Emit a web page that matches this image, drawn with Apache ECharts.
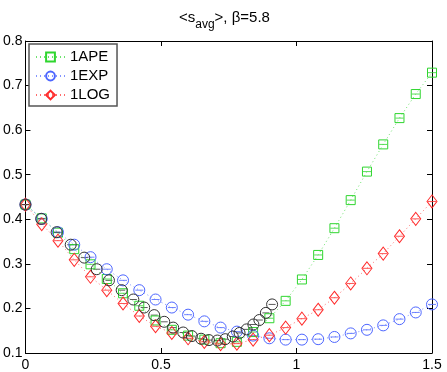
<!DOCTYPE html>
<html>
<head>
<meta charset="utf-8">
<script src="https://cdn.jsdelivr.net/npm/echarts@6/dist/echarts.min.js"></script>
<style>
  html, body { margin: 0; padding: 0; background: #fff; }
  #chart { width: 447px; height: 372px; }
</style>
</head>
<body>
<div id="chart"></div>
<script>
// x positions shared by the three labelled series
var xs = [0, 0.06, 0.12, 0.18, 0.24, 0.30, 0.36, 0.42, 0.48, 0.54, 0.60, 0.66, 0.72,
  0.78, 0.84, 0.90, 0.96, 1.02, 1.08, 1.14, 1.20, 1.26, 1.32, 1.38, 1.44, 1.50]
var apeVals = [0.433, 0.402, 0.370, 0.333, 0.299, 0.266, 0.234, 0.206, 0.173, 0.152, 0.139, 0.130, 0.122,
  0.125, 0.147, 0.178, 0.217, 0.265, 0.320, 0.380, 0.443, 0.507, 0.568, 0.627, 0.681, 0.729]
var expVals = [0.433, 0.401, 0.371, 0.343, 0.315, 0.288, 0.263, 0.241, 0.220, 0.202, 0.186, 0.171, 0.157,
  0.148, 0.139, 0.133, 0.130, 0.130, 0.131, 0.136, 0.144, 0.152, 0.162, 0.176, 0.191, 0.209]
var logVals = [0.433, 0.389, 0.352, 0.309, 0.271, 0.241, 0.211, 0.183, 0.160, 0.145, 0.133, 0.125, 0.120,
  0.121, 0.130, 0.140, 0.157, 0.177, 0.197, 0.224, 0.256, 0.290, 0.323, 0.362, 0.401, 0.440]
// unlabelled black series (own x positions)
var blackX = [0, 0.058, 0.115, 0.167, 0.217, 0.263, 0.308, 0.355, 0.398, 0.438, 0.475, 0.512, 0.545,
  0.582, 0.614, 0.648, 0.677, 0.708, 0.737, 0.765, 0.790, 0.816, 0.841, 0.863, 0.887, 0.910]
var blackVals = [0.433, 0.401, 0.371, 0.343, 0.314, 0.288, 0.263, 0.241, 0.220, 0.202, 0.185, 0.170, 0.157,
  0.146, 0.138, 0.132, 0.129, 0.128, 0.131, 0.137, 0.145, 0.153, 0.164, 0.174, 0.190, 0.209]
var xTicks = [0, 0.5, 1, 1.5]

var green = '#2fd62f'
var blue = '#4d66ff'
var red = '#ff2b2b'
var black = '#333333'

function pairs(x, y) {
  return x.map(function (v, i) { return [v, y[i]] })
}

// hollow marker + dotted line
function mainSeries(name, data, symbol, size, col, withLine) {
  return {
    name: name,
    type: 'line',
    data: data,
    symbol: symbol,
    symbolSize: size,
    showSymbol: true,
    animation: false,
    lineStyle: withLine ? { color: col, width: 1, type: [1, 3], opacity: 0.7 } : { width: 0, opacity: 0 },
    itemStyle: { color: 'rgba(255,255,255,0)', borderColor: col, borderWidth: 1 },
    emphasis: { disabled: true }
  }
}
// short horizontal bar through each marker (error bar caps)
function barSeries(data, w, col) {
  return {
    name: '_bar',
    type: 'scatter',
    data: data,
    symbol: 'rect',
    symbolSize: [w, 1],
    silent: true,
    animation: false,
    itemStyle: { color: col }
  }
}

var apeData = pairs(xs, apeVals)
var expData = pairs(xs, expVals)
var logData = pairs(xs, logVals)
var blackData = pairs(blackX, blackVals)

var chart = echarts.init(document.getElementById('chart'), null, { renderer: 'canvas' })
chart.setOption({
  backgroundColor: '#fff',
  animation: false,
  textStyle: { fontFamily: 'Liberation Sans' },
  title: {
    text: '{t|<s}{sub|avg}{t|>, β=5.8}',
    left: 174,
    top: 5,
    textStyle: {
      rich: {
        t: { fontSize: 15, fontWeight: 'normal', fontFamily: 'Liberation Sans', color: '#000', lineHeight: 17, verticalAlign: 'top' },
        sub: { fontSize: 12, fontWeight: 'normal', fontFamily: 'Liberation Sans', color: '#000', lineHeight: 12, padding: [9, 0, 0, 0], verticalAlign: 'top' }
      }
    }
  },
  legend: {
    data: ['1APE', '1EXP', '1LOG'],
    orient: 'vertical',
    left: 29,
    top: 44,
    padding: [5, 7, 3, 6],
    itemGap: 3,
    itemWidth: 29,
    itemHeight: 11,
    backgroundColor: '#fff',
    borderColor: '#555',
    borderWidth: 1.5,
    borderRadius: 0,
    textStyle: { fontSize: 15, color: '#000', fontFamily: 'Liberation Sans', lineHeight: 16 }
  },
  grid: { left: 25, right: 15, top: 41, bottom: 19, show: false },
  xAxis: [
    {
      type: 'value', min: 0, max: 1.5, interval: 0.5, position: 'bottom',
      axisLine: { show: true, lineStyle: { color: '#000', width: 1 } },
      axisTick: { show: true, inside: true, length: 5, lineStyle: { color: '#000' } },
      axisLabel: { color: '#000', fontSize: 14, margin: 5, fontFamily: 'Liberation Sans',
        customValues: xTicks },
      splitLine: { show: false }
    },
    {
      type: 'value', min: 0, max: 1.5, interval: 0.5, position: 'top',
      axisLine: { show: true, onZero: false, lineStyle: { color: '#000', width: 1 } },
      axisTick: { show: true, inside: true, length: 5, lineStyle: { color: '#000' } },
      axisLabel: { show: false },
      splitLine: { show: false }
    }
  ],
  yAxis: [
    {
      type: 'value', min: 0.1, max: 0.8, interval: 0.1, position: 'left',
      axisLine: { show: true, onZero: false, lineStyle: { color: '#000', width: 1 } },
      axisTick: { show: true, inside: true, length: 5, lineStyle: { color: '#000' } },
      axisLabel: { color: '#000', fontSize: 14, margin: 3, fontFamily: 'Liberation Sans',
        formatter: function (v) { return v.toFixed(1) } },
      splitLine: { show: false }
    },
    {
      type: 'value', min: 0.1, max: 0.8, interval: 0.1, position: 'right',
      axisLine: { show: true, onZero: false, lineStyle: { color: '#000', width: 1 } },
      axisTick: { show: true, inside: true, length: 5, lineStyle: { color: '#000' } },
      axisLabel: { show: false },
      splitLine: { show: false }
    }
  ],
  series: [
    mainSeries('1APE', apeData, 'rect', 9, green, true),
    mainSeries('1EXP', expData, 'circle', 11, blue, true),
    mainSeries('1LOG', logData, 'diamond', [10, 13], red, true),
    mainSeries('_black', blackData, 'circle', 11, black, false),
    barSeries(apeData, 8, green),
    barSeries(expData, 8, blue),
    barSeries(logData, 8, red),
    barSeries(blackData, 7, black)
  ]
})
</script>
</body>
</html>
